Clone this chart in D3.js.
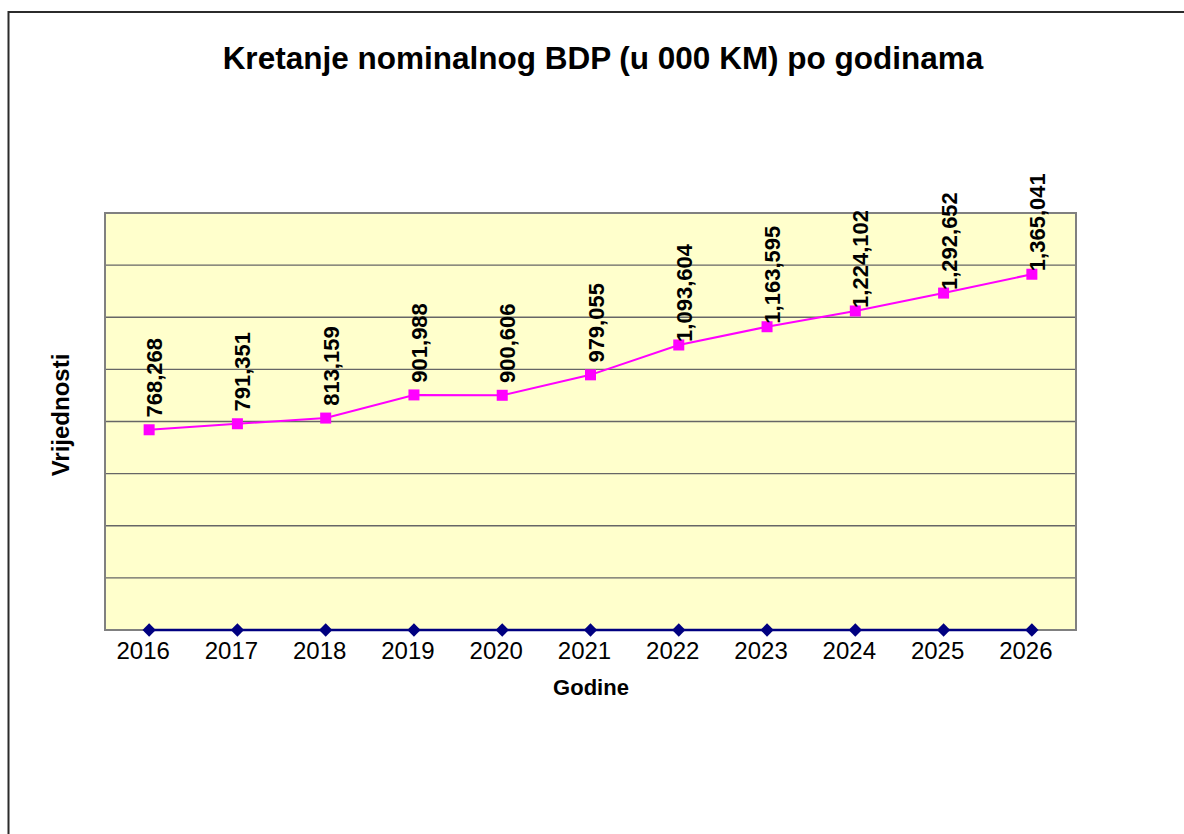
<!DOCTYPE html>
<html>
<head>
<meta charset="utf-8">
<script src="https://cdn.jsdelivr.net/npm/d3@7"></script>
<style>
  html, body { margin: 0; padding: 0; background: #fff; overflow: hidden; }
  svg { display: block; font-family: Arial, "Liberation Sans", sans-serif; }
</style>
</head>
<body>
<svg id="chart"></svg>
<script>
// podaci
const years = ["2016", "2017", "2018", "2019", "2020", "2021", "2022", "2023", "2024", "2025", "2026"];
const bdp = [768268, 791351, 813159, 901988, 900606, 979055, 1093604, 1163595, 1224102, 1292652, 1365041];
const baseSeries = [0, 0, 0, 0, 0, 0, 0, 0, 0, 0, 0];
const yTicks = [0, 200000, 400000, 600000, 800000, 1000000, 1200000, 1400000, 1600000];

const W = 1184, H = 834;
const plot = { left: 105, right: 1076, top: 213, bottom: 630 };

const svg = d3.select("#chart").attr("width", W).attr("height", H);

// vanjski okvir (izlazi izvan slike desno i dolje)
svg.append("rect")
  .attr("x", 8.5).attr("y", 12)
  .attr("width", W + 20).attr("height", H + 20)
  .attr("fill", "none").attr("stroke", "#2b2b2b").attr("stroke-width", 2);

const x = d3.scaleBand().domain(years).range([plot.left, plot.right]);
const y = d3.scaleLinear().domain([0, 1600000]).range([plot.bottom, plot.top]);
const cx = d => x(d) + x.bandwidth() / 2;

// pozadina
svg.append("rect")
  .attr("x", plot.left).attr("y", plot.top)
  .attr("width", plot.right - plot.left).attr("height", plot.bottom - plot.top)
  .attr("fill", "#ffffcc");

// mreža
svg.append("g")
  .selectAll("line")
  .data(yTicks)
  .join("line")
  .attr("x1", plot.left).attr("x2", plot.right)
  .attr("y1", d => y(d)).attr("y2", d => y(d))
  .attr("stroke", "#666").attr("stroke-width", 1.3);

// okvir grafikona
svg.append("rect")
  .attr("x", plot.left).attr("y", plot.top)
  .attr("width", plot.right - plot.left).attr("height", plot.bottom - plot.top)
  .attr("fill", "none").attr("stroke", "#808080").attr("stroke-width", 2);

// donja serija (nule)
svg.append("path")
  .datum(baseSeries)
  .attr("fill", "none").attr("stroke", "#000080").attr("stroke-width", 2.5)
  .attr("d", d3.line().x((d, i) => cx(years[i])).y(d => y(d)));

svg.append("g")
  .selectAll("path")
  .data(baseSeries)
  .join("path")
  .attr("d", d3.symbol(d3.symbolSquare, 88))
  .attr("transform", (d, i) => `translate(${cx(years[i])},${y(d)}) rotate(45)`)
  .attr("fill", "#000080");

// BDP serija
svg.append("path")
  .datum(bdp)
  .attr("fill", "none").attr("stroke", "#ff00ff").attr("stroke-width", 2)
  .attr("d", d3.line().x((d, i) => cx(years[i])).y(d => y(d)));

svg.append("g")
  .selectAll("rect")
  .data(bdp)
  .join("rect")
  .attr("x", (d, i) => cx(years[i]) - 5.5)
  .attr("y", d => y(d) - 5.5)
  .attr("width", 11).attr("height", 11)
  .attr("fill", "#ff00ff");

// oznake vrijednosti
const fmt = d3.format(",");
svg.append("g")
  .selectAll("text")
  .data(bdp)
  .join("text")
  .attr("transform", (d, i) => `translate(${cx(years[i]) + 13},${y(d) - 52}) rotate(-90)`)
  .attr("text-anchor", "middle")
  .attr("font-size", 22).attr("font-weight", "bold")
  .attr("fill", "#000")
  .text(d => fmt(d));

// x os - godine
svg.append("g")
  .selectAll("text")
  .data(years)
  .join("text")
  .attr("x", d => cx(d) - 6)
  .attr("y", plot.bottom + 29)
  .attr("text-anchor", "middle")
  .attr("font-size", 24)
  .attr("fill", "#000")
  .text(d => d);

// naslovi
svg.append("text")
  .attr("x", 603).attr("y", 69)
  .attr("text-anchor", "middle")
  .attr("font-size", 31.5).attr("font-weight", "bold")
  .text("Kretanje nominalnog BDP (u 000 KM) po godinama");

svg.append("text")
  .attr("x", 591).attr("y", 695)
  .attr("text-anchor", "middle")
  .attr("font-size", 22).attr("font-weight", "bold")
  .text("Godine");

svg.append("text")
  .attr("transform", "translate(69,415) rotate(-90)")
  .attr("text-anchor", "middle")
  .attr("font-size", 24).attr("font-weight", "bold")
  .text("Vrijednosti");
</script>
</body>
</html>
